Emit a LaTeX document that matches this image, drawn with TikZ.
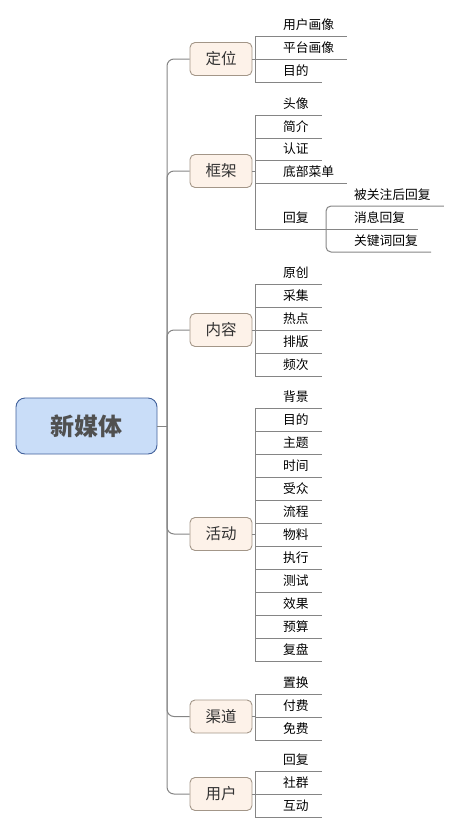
\documentclass[tikz,border=0pt]{standalone}
\usepackage{fontspec}
\newfontfamily\cjk{Noto Sans CJK SC}
\definecolor{linegray}{HTML}{858585}
\definecolor{brfill}{HTML}{FDF2E9}
\definecolor{brborder}{HTML}{A39688}
\definecolor{rootfill}{HTML}{C9DDF8}
\definecolor{rootborder}{HTML}{42619B}
\definecolor{textgray}{HTML}{333333}
\definecolor{roottext}{HTML}{505050}
\begin{document}
\begin{tikzpicture}[x=1pt,y=-1pt,
  conn/.style={draw=linegray, line width=1pt},
  branch/.style={draw=brborder, fill=brfill, rounded corners=5pt, minimum width=62pt, minimum height=33pt, inner sep=0pt, line width=0.9pt, text=textgray, font=\cjk\fontsize{15.5}{18}\selectfont},
  rootbox/.style={draw=rootborder, fill=rootfill, rounded corners=9pt, minimum width=141pt, minimum height=56pt, inner sep=0pt, line width=0.9pt, text=roottext, font=\cjk\bfseries\fontsize{24}{28}\selectfont},
  leaf/.style={anchor=south west, inner xsep=13pt, inner ysep=4pt, text height=10pt, text depth=2pt, font=\cjk\fontsize{12.75}{15}\selectfont}]
\useasboundingbox (0,0) rectangle (458,833);

% root
\node[rootbox] (root) at (86.5,426) {新媒体};
\coordinate (hub) at (167,426);
\draw[conn] (root.east) -- (hub);

% branches
\node[branch] (dw) at (221,59) {定位};
\node[branch] (kj) at (221,171) {框架};
\node[branch] (nr) at (221,330) {内容};
\node[branch] (hd) at (221,534) {活动};
\node[branch] (qd) at (221,716.5) {渠道};
\node[branch] (yh) at (221,794) {用户};

\foreach \b in {dw,kj,nr,hd,qd,yh}{
  \draw[conn, rounded corners=7pt] (hub) -- (hub |- \b.west) -- (\b.west);
}

\coordinate (spine) at (255,0);
\coordinate (subspine) at (326,0);

% 定位
\foreach \t/\y [count=\i] in {用户画像/36,平台画像/59,目的/82}{
  \node[leaf] (dw\i) at (270,\y) {\t};
  \draw[conn] (spine |- dw\i.south) -- (dw\i.south east);
}
\draw[conn] (spine |- dw1.south) -- (spine |- dw3.south);
\draw[conn] (dw.east) -- (spine |- dw.east);

% 框架
\foreach \t/\y [count=\i] in {头像/115,简介/138,认证/160,底部菜单/183}{
  \node[leaf] (kj\i) at (270,\y) {\t};
  \draw[conn] (spine |- kj\i.south) -- (kj\i.south east);
}
\node[leaf] (kj5) at (270,229) {回复};
\draw[conn] (spine |- kj5.south) -- (subspine |- kj5.south);
\draw[conn] (spine |- kj1.south) -- (spine |- kj5.south);
\draw[conn] (kj.east) -- (spine |- kj.east);

\foreach \t/\y [count=\i] in {被关注后回复/206,消息回复/229,关键词回复/252}{
  \node[leaf] (hf\i) at (341,\y) {\t};
}
\draw[conn, rounded corners=5pt] (hf1.south east) -- (subspine |- hf1.south) -- (subspine |- hf3.south) -- (hf3.south east);
\draw[conn] (subspine |- hf2.south) -- (hf2.south east);

% 内容
\foreach \t/\y [count=\i] in {原创/284,采集/307,热点/330,排版/353,频次/376}{
  \node[leaf] (nr\i) at (270,\y) {\t};
  \draw[conn] (spine |- nr\i.south) -- (nr\i.south east);
}
\draw[conn] (spine |- nr1.south) -- (spine |- nr5.south);
\draw[conn] (nr.east) -- (spine |- nr.east);

% 活动
\foreach \t/\y [count=\i] in {背景/408,目的/431,主题/454,时间/477,受众/500,流程/523,物料/546,执行/569,测试/592,效果/615,预算/638,复盘/661}{
  \node[leaf] (hd\i) at (270,\y) {\t};
  \draw[conn] (spine |- hd\i.south) -- (hd\i.south east);
}
\draw[conn] (spine |- hd1.south) -- (spine |- hd12.south);
\draw[conn] (hd.east) -- (spine |- hd.east);

% 渠道
\foreach \t/\y [count=\i] in {置换/694,付费/717,免费/740}{
  \node[leaf] (qd\i) at (270,\y) {\t};
  \draw[conn] (spine |- qd\i.south) -- (qd\i.south east);
}
\draw[conn] (spine |- qd1.south) -- (spine |- qd3.south);
\draw[conn] (qd.east) -- (spine |- qd.east);

% 用户
\foreach \t/\y [count=\i] in {回复/771,社群/794,互动/817}{
  \node[leaf] (yh\i) at (270,\y) {\t};
  \draw[conn] (spine |- yh\i.south) -- (yh\i.south east);
}
\draw[conn] (spine |- yh1.south) -- (spine |- yh3.south);
\draw[conn] (yh.east) -- (spine |- yh.east);
\end{tikzpicture}
\end{document}
